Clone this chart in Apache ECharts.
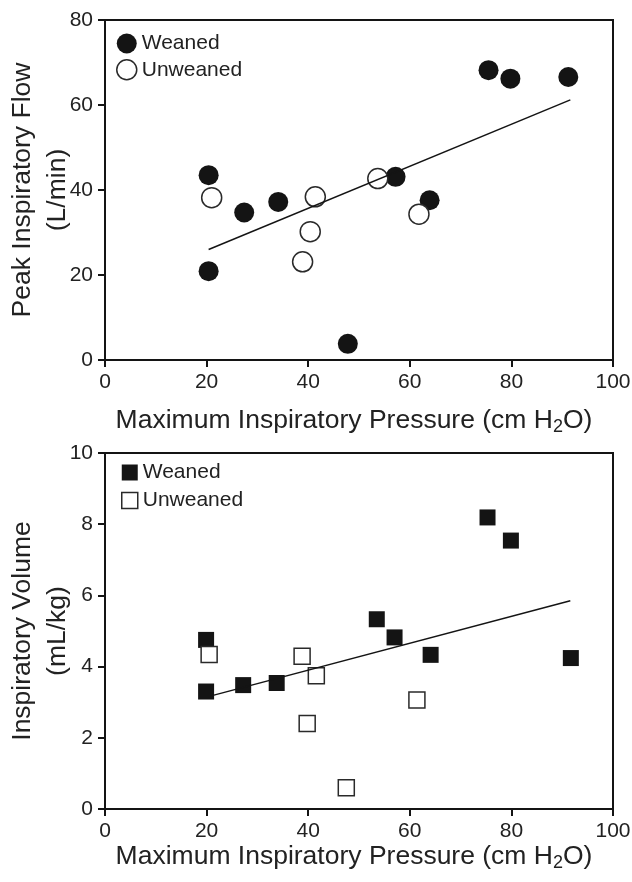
<!DOCTYPE html>
<html>
<head>
<meta charset="utf-8">
<script src="https://cdn.jsdelivr.net/npm/echarts@6/dist/echarts.min.js"></script>
<style>
html,body{margin:0;padding:0;background:#fff;}
#c{width:632px;height:882px;}
</style>
</head>
<body>
<div id="c"></div>
<script>
// Top panel: Peak Inspiratory Flow (L/min) vs Maximum Inspiratory Pressure
const flowWeaned = [
  [20.4, 43.5], [20.4, 20.9], [27.4, 34.7], [34.1, 37.2], [47.8, 3.8],
  [57.2, 43.1], [63.9, 37.6], [75.5, 68.2], [79.8, 66.2], [91.2, 66.6]
];
const flowUnweaned = [
  [21.0, 38.2], [41.4, 38.4], [40.4, 30.2], [38.9, 23.1], [53.7, 42.7], [61.8, 34.3]
];
const flowTrend = [[20.4, 26.0], [91.6, 61.2]];

// Bottom panel: Inspiratory Volume (mL/kg) vs Maximum Inspiratory Pressure
const volWeaned = [
  [19.9, 4.75], [19.9, 3.30], [27.2, 3.48], [33.8, 3.54], [53.5, 5.33],
  [57.0, 4.82], [64.1, 4.33], [75.3, 8.19], [79.9, 7.54], [91.7, 4.24]
];
const volUnweaned = [
  [20.5, 4.34], [38.8, 4.29], [41.6, 3.74], [39.8, 2.40], [47.5, 0.60], [61.4, 3.06]
];
const volTrend = [[20.7, 3.17], [91.6, 5.85]];

const xTicks = [0, 20, 40, 60, 80, 100];
const flowTicks = [0, 20, 40, 60, 80];
const volTicks = [0, 2, 4, 6, 8, 10];

const groupNames = ['Weaned', 'Unweaned'];
const xTitle = 'Maximum Inspiratory Pressure (cm H{sub|2}O)';
const flowTitle = 'Peak Inspiratory Flow\n(L/min)';
const volTitle = 'Inspiratory Volume\n(mL/kg)';

const FONT = '"Liberation Sans", Arial, Helvetica, sans-serif';
const INK = '#141414';
const TXT = '#222';

function xAxis(gridIndex, gap) {
  return {
    type: 'value', gridIndex, min: xTicks[0], max: xTicks[xTicks.length - 1], interval: 20,
    name: xTitle, nameLocation: 'middle', nameGap: gap, nameMoveOverlap: false,
    nameTextStyle: {
      fontFamily: FONT, fontSize: 26.5, color: TXT, lineHeight: 30, padding: [0, 10, 0, 0],
      rich: { sub: { fontFamily: FONT, fontSize: 18, color: TXT, lineHeight: 14, verticalAlign: 'bottom' } }
    },
    axisLine: { show: true, onZero: false, lineStyle: { color: INK, width: 2 } },
    axisTick: { show: true, inside: false, length: 7, lineStyle: { color: INK, width: 2 } },
    axisLabel: { margin: 12, fontFamily: FONT, fontSize: 21, color: TXT },
    splitLine: { show: false }
  };
}
function yAxis(gridIndex, ticks, title) {
  return {
    type: 'value', gridIndex, min: ticks[0], max: ticks[ticks.length - 1],
    interval: ticks[1] - ticks[0],
    name: title, nameLocation: 'middle', nameGap: 30, nameRotate: 90, nameMoveOverlap: false,
    nameTextStyle: { fontFamily: FONT, fontSize: 26.5, color: TXT, lineHeight: 35, align: 'center' },
    axisLine: { show: true, onZero: false, lineStyle: { color: INK, width: 2 } },
    axisTick: { show: true, inside: false, length: 7, lineStyle: { color: INK, width: 2 } },
    axisLabel: { margin: 12, fontFamily: FONT, fontSize: 21, color: TXT },
    splitLine: { show: false }
  };
}

const filled = { color: INK, borderColor: INK, borderWidth: 0, opacity: 1 };
const open = { color: '#fff', borderColor: '#2a2a2a', borderWidth: 1.5, opacity: 1 };

const option = {
  backgroundColor: '#fff',
  animation: false,
  grid: [
    { left: 105, right: 19, top: 20, height: 340, show: true, borderColor: INK, borderWidth: 2,
      backgroundColor: 'transparent', containLabel: false, outerBoundsMode: 'none' },
    { left: 105, right: 19, top: 453, height: 356, show: true, borderColor: INK, borderWidth: 2,
      backgroundColor: 'transparent', containLabel: false, outerBoundsMode: 'none' }
  ],
  xAxis: [xAxis(0, 46), xAxis(1, 33)],
  yAxis: [yAxis(0, flowTicks, flowTitle), yAxis(1, volTicks, volTitle)],
  legend: [
    {
      orient: 'vertical', left: 111, top: 28, itemGap: 5, itemWidth: 20, itemHeight: 20,
      textStyle: { fontFamily: FONT, fontSize: 21, color: TXT },
      selectedMode: false,
      data: [
        { name: groupNames[0], icon: 'circle', itemStyle: filled },
        { name: groupNames[1], icon: 'circle', itemStyle: open }
      ]
    },
    {
      orient: 'vertical', left: 116, top: 457, itemGap: 7, itemWidth: 16, itemHeight: 16,
      textStyle: { fontFamily: FONT, fontSize: 21, color: TXT },
      selectedMode: false,
      data: [
        { name: groupNames[0], icon: 'rect', itemStyle: filled },
        { name: groupNames[1], icon: 'rect', itemStyle: open }
      ]
    }
  ],
  series: [
    { name: groupNames[0], type: 'scatter', xAxisIndex: 0, yAxisIndex: 0, symbol: 'circle', symbolSize: 20, data: flowWeaned, itemStyle: filled, z: 2 },
    { name: groupNames[1], type: 'scatter', xAxisIndex: 0, yAxisIndex: 0, symbol: 'circle', symbolSize: 20, data: flowUnweaned, itemStyle: open, z: 2 },
    { name: 'trend1', type: 'line', xAxisIndex: 0, yAxisIndex: 0, data: flowTrend, symbol: 'none', lineStyle: { color: INK, width: 1.5 }, z: 3, silent: true },
    { name: groupNames[0], type: 'scatter', xAxisIndex: 1, yAxisIndex: 1, symbol: 'rect', symbolSize: 16, data: volWeaned, itemStyle: filled, z: 2 },
    { name: groupNames[1], type: 'scatter', xAxisIndex: 1, yAxisIndex: 1, symbol: 'rect', symbolSize: 16, data: volUnweaned, itemStyle: open, z: 2 },
    { name: 'trend2', type: 'line', xAxisIndex: 1, yAxisIndex: 1, data: volTrend, symbol: 'none', lineStyle: { color: INK, width: 1.5 }, z: 3, silent: true }
  ]
};

const chart = echarts.init(document.getElementById('c'), null, { renderer: 'canvas' });
chart.setOption(option);
</script>
</body>
</html>
